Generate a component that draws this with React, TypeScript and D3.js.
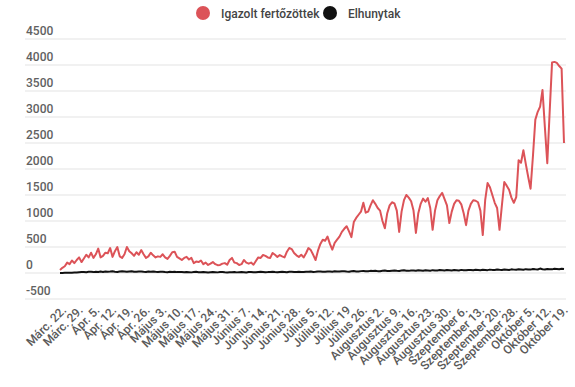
import React, { useEffect, useRef } from "react";
import * as d3 from "d3";

// napi új esetek (Márc. 22. - Október 19.)
const cases = [
  60, 100, 130, 200, 170, 240, 190, 250, 300, 210,
  280, 350, 300, 390, 290, 360, 470, 300, 330, 390,
  380, 480, 310, 420, 500, 320, 290, 360, 500, 420,
  380, 330, 400, 350, 440, 360, 290, 320, 390, 340,
  300, 320, 310, 360, 300, 270, 330, 400, 410, 310,
  280, 250, 290, 310, 260, 290, 190, 220, 210, 240,
  170, 200, 154, 180, 210, 170, 150, 154, 180, 190,
  160, 250, 290, 200, 190, 154, 170, 250, 200, 180,
  200, 160, 230, 300, 290, 346, 330, 300, 290, 385,
  350, 310, 346, 320, 300, 410, 480, 460, 385, 340,
  310, 350, 300, 380, 480, 440, 350, 250, 430, 560,
  640, 620, 700, 560, 450, 580, 640, 700, 790, 850,
  900, 800, 690, 980, 1060, 1120, 1180, 1350, 1160, 1180,
  1300, 1400, 1330, 1250, 1200, 1000, 860, 1150, 1300, 1360,
  1340, 1200, 790, 1180, 1400, 1500, 1450, 1380, 1200, 770,
  1150, 1330, 1430, 1370, 1440, 1250, 830, 1200, 1400, 1480,
  1540, 1420, 1300, 960, 1180, 1330, 1400, 1390, 1320, 1150,
  920, 1200, 1330, 1400, 1390, 1360, 1200, 730, 1400, 1730,
  1650, 1500, 1350, 1250, 830, 1300, 1750, 1680, 1600, 1450,
  1350, 1460, 2170, 2120, 2360, 2100, 1850, 1620, 2250, 2950,
  3100, 3200, 3520, 2800, 2110, 3100, 4050, 4060, 4040, 3980,
  3930, 2500,
];

// napi elhunytak
const deaths = [
  1, 2, 3, 5, 4, 6, 8, 10, 15, 18,
  20, 16, 24, 22, 17, 25, 20, 28, 21, 30,
  26, 27, 32, 25, 20, 29, 32, 28, 22, 30,
  35, 26, 24, 31, 27, 22, 19, 28, 25, 30,
  24, 20, 23, 26, 18, 15, 22, 19, 25, 17,
  21, 18, 14, 20, 16, 12, 17, 22, 15, 13,
  19, 16, 11, 14, 18, 15, 12, 17, 20, 14,
  10, 13, 16, 19, 12, 15, 18, 14, 11, 17,
  20, 16, 13, 18, 22, 19, 15, 17, 21, 24,
  18, 14, 20, 23, 19, 16, 22, 25, 20, 18,
  24, 21, 19, 26, 23, 28, 20, 24, 30, 27,
  22, 25, 31, 28, 24, 33, 30, 27, 35, 32,
  28, 26, 34, 38, 31, 29, 36, 40, 35, 33,
  41, 38, 44, 36, 33, 42, 48, 40, 37, 45,
  50, 43, 39, 47, 52, 44, 41, 49, 46, 42,
  51, 47, 44, 53, 49, 45, 55, 50, 47, 56,
  52, 48, 58, 54, 49, 57, 53, 50, 60, 55,
  51, 59, 56, 52, 62, 58, 54, 63, 59, 55,
  65, 60, 57, 66, 61, 58, 68, 63, 59, 70,
  65, 61, 72, 67, 63, 74, 69, 65, 76, 70,
  67, 85, 72, 68, 78, 74, 70, 80, 75, 71,
  82, 76,
];

const tickLabels = [
  "Márc. 22.", "Márc. 29.", "Ápr. 5.", "Ápr. 12.", "Ápr. 19.", "Ápr. 26.",
  "Május 3.", "Május 10.", "Május 17.", "Május 24.", "Május 31.",
  "Június 7.", "Június 14.", "Június 21.", "Június 28.",
  "Július 5.", "Július 12.", "Július 19", "Július 26.",
  "Augusztus 2.", "Augusztus 9.", "Augusztus 16.", "Augusztus 23.", "Augusztus 30.",
  "Szeptember 6.", "Szeptember 13.", "Szeptember 20.", "Szeptember 28.",
  "Október 5.", "Október 12.", "Október 19.",
];

const yTicks = [-500, 0, 500, 1000, 1500, 2000, 2500, 3000, 3500, 4000, 4500];

const seriesNames = ["Igazolt fertőzöttek", "Elhunytak"];
const seriesColors = ["#dc5358", "#111111"];

export default function App() {
  const ref = useRef<SVGSVGElement>(null);

  useEffect(() => {
    const width = 575,
      height = 387;
    const svg = d3.select(ref.current);
    svg.selectAll("*").remove();

    const x = d3.scaleLinear().domain([0, cases.length - 1]).range([60, 564]);
    const y = d3.scaleLinear().domain([-500, 4500]).range([299, 39]);

    // vízszintes rácsvonalak + y feliratok
    const grid = svg.append("g");
    yTicks.forEach(t => {
      grid
        .append("line")
        .attr("x1", 25)
        .attr("x2", 566)
        .attr("y1", y(t))
        .attr("y2", y(t))
        .attr("stroke", "#e3e3e3")
        .attr("stroke-width", 1);
      grid
        .append("text")
        .attr("x", 26)
        .attr("y", y(t) - 4)
        .attr("fill", "#616161")
        .attr("font-size", 12)
        .attr("font-weight", 500)
        .attr("font-family", "Roboto, sans-serif")
        .text(t);
    });

    // x feliratok, 7 naponként
    const xl = svg.append("g");
    tickLabels.forEach((lab, i) => {
      const px = x(i * 7) + 7;
      xl.append("text")
        .attr("transform", "translate(" + px + ",311) rotate(-45)")
        .attr("text-anchor", "end")
        .attr("fill", "#5a5a5a")
        .attr("font-size", 12)
        .attr("font-weight", 500)
        .attr("font-family", "Roboto, sans-serif")
        .text(lab);
    });

    const line = d3
      .line<number>()
      .x((d, i) => x(i))
      .y(d => y(d));

    svg
      .append("path")
      .datum(deaths)
      .attr("d", line)
      .attr("fill", "none")
      .attr("stroke", seriesColors[1])
      .attr("stroke-width", 2)
      .attr("stroke-linejoin", "round");

    svg
      .append("path")
      .datum(cases)
      .attr("d", line)
      .attr("fill", "none")
      .attr("stroke", seriesColors[0])
      .attr("stroke-width", 2)
      .attr("stroke-linejoin", "round");

    // jelmagyarázat
    const legendX = [203, 330];
    const leg = svg.append("g");
    seriesNames.forEach((name, i) => {
      leg
        .append("circle")
        .attr("cx", legendX[i])
        .attr("cy", 13)
        .attr("r", 7)
        .attr("fill", seriesColors[i]);
      leg
        .append("text")
        .attr("x", legendX[i] + 18)
        .attr("y", 17.5)
        .attr("fill", "#444")
        .attr("font-size", 12)
        .attr("font-weight", 500)
        .attr("font-family", "Roboto, sans-serif")
        .text(name);
    });

    svg.attr("width", width).attr("height", height);
  }, []);

  return (
    <svg
      ref={ref}
      width={575}
      height={387}
      style={{ position: "absolute", left: 0, top: 0 }}
    />
  );
}
